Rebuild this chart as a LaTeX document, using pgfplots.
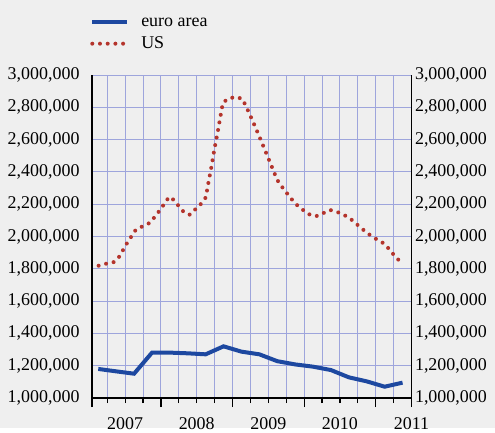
\documentclass[border=0pt]{standalone}
\usepackage{fontspec}
\setmainfont{Liberation Serif}
\usepackage{pgfplots}
\pgfplotsset{compat=1.18}
\definecolor{bg}{RGB}{239,239,239}
\definecolor{gridc}{RGB}{158,165,220}
\definecolor{euro}{RGB}{29,72,160}
\definecolor{usred}{RGB}{180,52,44}

\begin{document}
\begin{tikzpicture}[x=1bp,y=1bp]
\fill[bg] (0,0) rectangle (495,428);
\begin{axis}[
  at={(92bp,30bp)}, anchor=south west,
  scale only axis, width=319.5bp, height=323bp,
  xmin=0.15, xmax=18, ymin=1000000, ymax=3000000,
  axis x line*=bottom, axis y line*=left,
  axis line style={black, line width=1.2bp},
  tick align=outside,
  xtick={0.15,4,8,12,16,18}, xticklabels={},
  minor xtick={1,2,3,5,6,7,9,10,11,13,14,15,17},
  major tick length=9bp, minor tick length=5bp,
  xtick style={black, line width=1.2bp},
  minor x tick style={black, line width=1.2bp},
  extra x ticks={2,6,10,14,18},
  extra x tick labels={2007,2008,2009,2010,2011},
  extra x tick style={tick style={draw=none}, grid=none},
  xticklabel style={yshift=-7bp},
  xmajorgrids, xminorgrids,
  ytick={1000000,1200000,...,3000000},
  ytick style={draw=none},
  ymajorgrids,
  grid style={gridc, line width=0.9bp},
  minor grid style={gridc, line width=0.9bp},
  scaled y ticks=false,
  yticklabel style={/pgf/number format/.cd, fixed, precision=0, 1000 sep={,}},
  /pgf/number format/assume math mode=true,
  tick label style={font=\fontsize{18}{20}\selectfont},
  legend image code/.code={\draw[#1] (0bp,0bp) -- (35bp,0bp);},
  legend style={at={(-0.006,1.192)}, anchor=north west, draw=none, fill=none,
    inner sep=0pt, row sep=5bp, column sep=12bp, font=\fontsize{18}{20}\selectfont,
    nodes={inner sep=0pt, text height=13bp, text depth=4bp, anchor=west}},
  legend cell align=left,
]
\addplot[euro, line width=4bp] table {
x y
0.5 1180000
1.5 1165000
2.5 1150500
3.5 1280500
4.5 1281000
5.5 1276700
6.5 1270500
7.5 1320000
8.5 1287000
9.5 1270500
10.5 1228000
11.5 1208000
12.5 1194000
13.5 1173000
14.5 1128000
15.5 1103000
16.5 1070000
17.5 1095000
};
\addlegendentry{euro area}
\addplot[usred, line width=4bp, line cap=round, dash pattern=on 0bp off 7.7bp] table {
x y
0.52 1819000
0.94 1831600
1.39 1842100
1.67 1874900
2.12 1961600
2.60 2042100
3.01 2065000
3.40 2085400
3.94 2162200
4.46 2245800
4.74 2224800
5.02 2184500
5.31 2147400
5.62 2135000
5.94 2170300
6.25 2203100
6.51 2242700
6.66 2337500
6.83 2436500
6.98 2535600
7.15 2632800
7.30 2727600
7.46 2826600
7.74 2853300
8.17 2863800
8.54 2853300
8.75 2808000
9.12 2717000
9.47 2626600
9.81 2535600
10.15 2444600
10.49 2351700
10.74 2310800
11.00 2273700
11.28 2234100
11.58 2196900
11.92 2165900
12.28 2137500
12.66 2125100
13.05 2143700
13.46 2164100
13.89 2149900
14.30 2128800
14.65 2104000
14.99 2071200
15.34 2038400
15.68 2009300
16.05 1982700
16.44 1957900
16.75 1922600
17.03 1883600
17.35 1846400
};
\addlegendentry{US}
\end{axis}
\begin{axis}[
  at={(92bp,30bp)}, anchor=south west,
  scale only axis, width=319.5bp, height=323bp,
  xmin=0.15, xmax=18, ymin=1000000, ymax=3000000,
  axis x line=none, axis y line*=right,
  axis line style={black, line width=1.2bp},
  ytick={1000000,1200000,...,3000000},
  ytick style={draw=none},
  scaled y ticks=false,
  yticklabel style={/pgf/number format/.cd, fixed, precision=0, 1000 sep={,}},
  /pgf/number format/assume math mode=true,
  tick label style={font=\fontsize{18}{20}\selectfont},
]
\end{axis}
\end{tikzpicture}
\end{document}
